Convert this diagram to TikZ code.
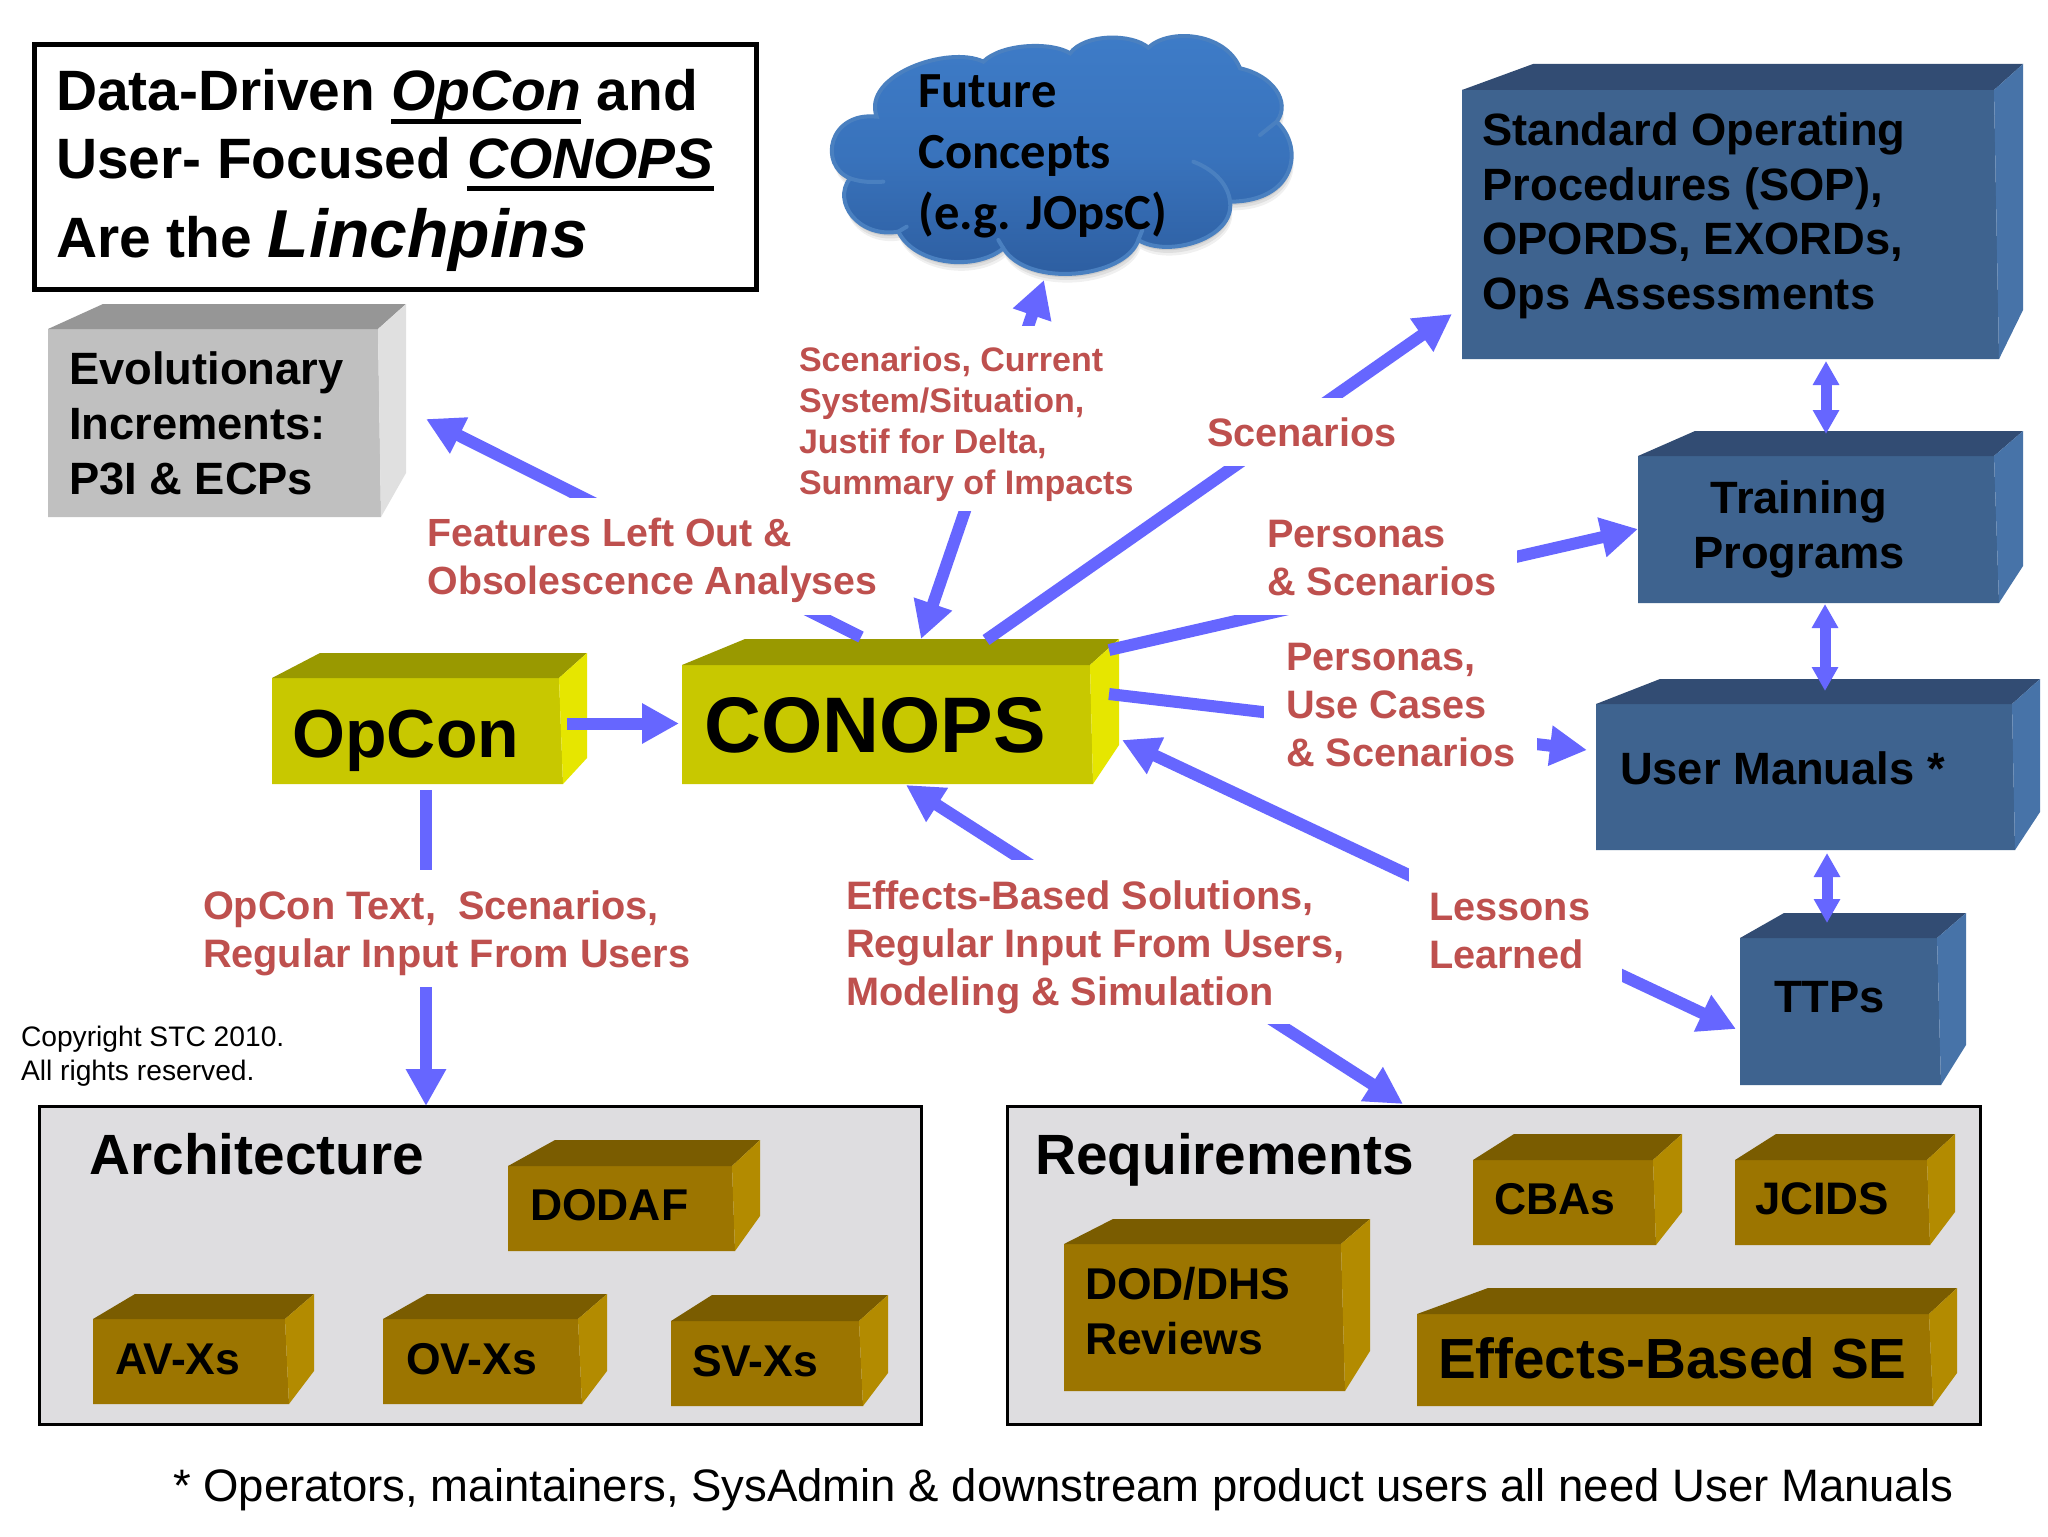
\documentclass[tikz,border=0pt]{standalone}
\usepackage{fontspec}
\setmainfont{Liberation Sans}
\newfontfamily\cloudfont{Carlito}
\usetikzlibrary{arrows.meta,fit}
\definecolor{flowc}{RGB}{102,102,255}
\definecolor{redc}{RGB}{190,80,78}
\definecolor{panelc}{RGB}{222,221,224}
\definecolor{yelF}{RGB}{200,200,0}\definecolor{yelT}{RGB}{153,153,0}\definecolor{yelS}{RGB}{230,230,0}
\definecolor{bluF}{RGB}{62,99,143}\definecolor{bluT}{RGB}{50,76,115}\definecolor{bluS}{RGB}{71,115,168}
\definecolor{golF}{RGB}{156,117,0}\definecolor{golT}{RGB}{122,92,0}\definecolor{golS}{RGB}{179,139,0}
\definecolor{graF}{RGB}{192,192,192}\definecolor{graT}{RGB}{150,150,150}\definecolor{graS}{RGB}{224,224,224}
\definecolor{cloudT}{RGB}{62,124,200}\definecolor{cloudB}{RGB}{44,92,158}\definecolor{cloudE}{RGB}{74,128,192}
\tikzset{
  x=0.5pt,y=-0.5pt,
  txt/.style={inner sep=0pt,outer sep=0pt,anchor=base west,align=left},
  boxtxt/.style={txt,text=black,font=\fontsize{22.65}{27.3}\selectfont\bfseries},
  smallbox/.style={txt,text=black,font=\fontsize{22.25}{27.5}\selectfont\bfseries},
  redtxt/.style={txt,text=redc,font=\fontsize{19.85}{24}\selectfont\bfseries},
  titletxt/.style={txt,font=\fontsize{28.45}{33}\selectfont\bfseries},
  face/.style={inner sep=0pt,outer sep=0pt,draw=none},
  flowto/.style={draw=flowc,line width=6pt,-{Triangle[length=18.5pt,width=19pt]}},
  flowboth/.style={draw=flowc,line width=6pt,{Triangle[length=18.5pt,width=19pt]}-{Triangle[length=18.5pt,width=19pt]}},
  flowsmall/.style={draw=flowc,line width=5.5pt,{Triangle[length=12pt,width=12.5pt]}-{Triangle[length=12pt,width=12.5pt]}},
  panel/.style={draw=black,line width=1.5pt,fill=panelc},
}
% name, colour prefix, L, T, R, B, back-left x, back y, back right x, then {side bottom y}{front bottom right x}
\newcommand\cuboid[9]{\def\cbA{#1}\def\cbB{#2}\def\cbL{#3}\def\cbT{#4}\def\cbR{#5}\def\cbD{#6}\def\cbX{#7}\def\cbY{#8}\def\cbZ{#9}\cuboidrest}
\newcommand\cuboidrest[2]{%
  \fill[\cbB F] (\cbL,\cbT) -- (\cbR,\cbT) -- (#2,\cbD) -- (\cbL,\cbD) -- cycle;
  \fill[\cbB T] (\cbL,\cbT) -- (\cbX,\cbY) -- (\cbZ,\cbY) -- (\cbR,\cbT) -- cycle;
  \fill[\cbB S] (\cbR,\cbT) -- (\cbZ,\cbY) -- (\cbZ,#1) -- (#2,\cbD) -- cycle;
  \node[face,fit={(\cbL,\cbT) (\cbR,\cbD)}] (\cbA) {};
}
\newcommand\myul[1]{\leavevmode\setbox0=\hbox{#1}\rlap{\rule[-6.5pt]{\wd0}{2.5pt}}\box0\relax}
\newcommand\cloudpath{(105,460) .. controls (10,420) and (40,260) .. (185,275)
  .. controls (140,150) and (400,60) .. (505,110)
  .. controls (560,55) and (710,50) .. (765,85)
  .. controls (810,25) and (950,25) .. (1000,68)
  .. controls (1060,10) and (1230,20) .. (1275,130)
  .. controls (1370,150) and (1430,230) .. (1385,290)
  .. controls (1470,370) and (1440,530) .. (1245,530)
  .. controls (1260,640) and (1060,700) .. (970,645)
  .. controls (930,760) and (640,790) .. (565,670)
  .. controls (480,740) and (300,720) .. (250,620)
  .. controls (130,640) and (50,530) .. (105,460) -- cycle}
\begin{document}
\begin{tikzpicture}
\useasboundingbox (0,0) rectangle (2048,1536);
\fill[white] (0,0) rectangle (2048,1536);

% title
\node[face,draw=black,line width=2.5pt,fit={(34,45) (756,289.5)}] (title) {};
\node[titletxt] (titleA) at (56,111) {Data-Driven \myul{\itshape OpCon} and};
\node[titletxt] (titleB) at (56,178) {User- Focused \myul{\itshape CONOPS}};
\node[titletxt] (titleC) at (56,257) {Are the {\fontsize{33.9}{33}\selectfont\itshape Linchpins}};

% cloud
\begin{scope}[shift={(815,25)},x=0.16667pt,y=-0.16667pt]
  \fill[black,opacity=0.06] [shift={(6,26)}] \cloudpath;
  \fill[black,opacity=0.07] [shift={(4,18)}] \cloudpath;
  \fill[black,opacity=0.08] [shift={(2,10)}] \cloudpath;
  \path[top color=cloudT,bottom color=cloudB,middle color=cloudT!70!cloudB,draw=cloudE,line width=2pt] \cloudpath;
  \draw[cloudE,line width=2pt,line cap=round] (105,460) .. controls (140,472) and (170,472) .. (205,470);
  \draw[cloudE,line width=2pt,line cap=round] (250,620) -- (275,605);
  \draw[cloudE,line width=2pt,line cap=round] (565,670) -- (550,645);
  \draw[cloudE,line width=2pt,line cap=round] (970,645) -- (982,615);
  \draw[cloudE,line width=2pt,line cap=round] (1245,530) .. controls (1240,480) and (1200,435) .. (1135,410);
  \draw[cloudE,line width=2pt,line cap=round] (1385,290) -- (1335,330);
\end{scope}
\node[face,fit={(834,39) (1298,278)}] (cloud) {};
\node[txt,font=\fontsize{25.3}{30.5}\selectfont\cloudfont\bfseries] (cloudT) at (918.5,229) {Future\\Concepts\\(e.g. JOpsC)};

% boxes
\cuboid{evo}{gra}{48}{329}{378}{517}{103}{304}{406}{473}{381}
\cuboid{sop}{blu}{1462}{90}{1994}{359}{1533}{64}{2023}{310}{1999}
\cuboid{train}{blu}{1638}{456}{1994}{603}{1695}{431}{2023}{566}{1999}
\cuboid{umanual}{blu}{1596}{704}{2012}{850}{1660}{679}{2040}{812}{2015}
\cuboid{ttps}{blu}{1740}{938}{1937}{1085}{1784}{913}{1966}{1045}{1941}
\cuboid{opcon}{yel}{272}{678}{559}{784}{320}{653}{587}{758}{563}
\cuboid{conops}{yel}{682}{665}{1090}{784}{745}{639}{1119}{745}{1093}

% panels
\node[face,panel,fit={(39,1106) (921,1424)}] (arch) {};
\node[face,panel,fit={(1007,1106) (1980,1424)}] (req) {};
\cuboid{dodaf}{gol}{508}{1166}{732}{1251}{555}{1140}{760}{1216}{735}
\cuboid{avx}{gol}{93}{1319}{285}{1404}{135}{1294}{314}{1371}{289}
\cuboid{ovx}{gol}{383}{1319}{578}{1404}{427}{1294}{607}{1371}{582}
\cuboid{svx}{gol}{671}{1321}{859}{1406}{712}{1295}{888}{1373}{863}
\cuboid{cba}{gol}{1473}{1160}{1653}{1245}{1514}{1134}{1682}{1212}{1656}
\cuboid{jcids}{gol}{1735}{1160}{1927}{1245}{1776}{1134}{1955}{1212}{1930}
\cuboid{dod}{gol}{1064}{1244}{1341}{1391}{1113}{1219}{1370}{1351}{1345}
\cuboid{ebse}{gol}{1417}{1314}{1929}{1406}{1488}{1288}{1957}{1373}{1933}

% connectors
\draw[flowto] ([shift={(8,45.5)}]opcon.north east) -- ([shift={(-3,58.5)}]conops.north west);
\draw[flowto] ([shift={(179,-28)}]conops.north west) -- ([shift={(48,90)}]evo.north east);
\draw[flowboth] ([shift={(239,-26)}]conops.north west) -- ([shift={(210,2)}]cloud.south west);
\draw[flowto] ([shift={(304,-25)}]conops.north west) -- ([shift={(-10,-45)}]sop.south west);
\draw[flowto] ([shift={(19,-15)}]conops.north east) -- ([shift={(0,73)}]train.north west);
\draw[flowto] ([shift={(19,29)}]conops.north east) -- ([shift={(-9,46)}]umanual.north west);
\draw[flowboth] ([shift={(32,75)}]conops.north east) -- ([shift={(-4,91)}]ttps.north west);
\draw[flowboth] ([shift={(224,1)}]conops.south west) -- ([shift={(396,-2)}]req.north west);
\draw[flowto] ([shift={(154,6)}]opcon.south west) -- ([shift={(387,0)}]arch.north west);
\draw[flowsmall] ([shift={(364,2)}]sop.south west) -- ([shift={(188,-22)}]train.north west);
\draw[flowsmall] ([shift={(187,1)}]train.south west) -- ([shift={(229,-13)}]umanual.north west);
\draw[flowsmall] ([shift={(231,3)}]umanual.south west) -- ([shift={(87,-15)}]ttps.north west);

% label masks over the connectors
\fill[white] (415,498) rectangle (890,615);
\fill[white] (795,326) rectangle (1150,511);
\fill[white] (1190,398) rectangle (1420,466);
\fill[white] (1230,513) rectangle (1517,615);
\fill[white] (1264,625) rectangle (1537,790);
\fill[white] (1409,855) rectangle (1622,1000);
\fill[white] (835,860) rectangle (1350,1024);
\fill[white] (190,870) rectangle (700,987);

% connector labels
\node[redtxt,font=\fontsize{19.65}{24}\selectfont\bfseries] (lblFeat) at (427.5,594.6) {Features Left Out \&\\Obsolescence Analyses};
\node[redtxt,font=\fontsize{17}{20.5}\selectfont\bfseries] (lblCur) at (799,494) {Scenarios, Current\\System/Situation,\\Justif for Delta,\\Summary of Impacts};
\node[redtxt] (lblScen) at (1207,446) {Scenarios};
\node[redtxt] (lblPers) at (1267,595) {Personas\\\& Scenarios};
\node[redtxt] (lblUse) at (1286,766) {Personas,\\Use Cases\\\& Scenarios};
\node[redtxt] (lblLess) at (1429,968) {Lessons\\Learned};
\node[redtxt] (lblEff) at (846,1005) {Effects-Based Solutions,\\Regular Input From Users,\\Modeling \& Simulation};
\node[redtxt] (lblOp) at (203,967) {OpCon Text,\ \ Scenarios,\\Regular Input From Users};

% box texts
\node[boxtxt] (evoT) at (69,494) {Evolutionary\\Increments:\\P3I \& ECPs};
\node[boxtxt] (sopT) at (1482.5,309.5) {Standard Operating\\Procedures (SOP),\\OPORDS, EXORDs,\\Ops Assessments};
\node[boxtxt,align=center,anchor=base] (trainT) at (1799,568.5) {Training\\Programs};
\node[boxtxt] (umT) at (1620,784) {User Manuals *};
\node[boxtxt] (ttpT) at (1774,1012) {TTPs};
\node[txt,font=\fontsize{34}{40}\selectfont\bfseries] (opT) at (292.5,757) {OpCon};
\node[txt,font=\fontsize{39.4}{46}\selectfont\bfseries] (conT) at (704.5,752) {CONOPS};
\node[txt,font=\fontsize{28.4}{33}\selectfont\bfseries] (archT) at (89.5,1174) {Architecture};
\node[txt,font=\fontsize{28.4}{33}\selectfont\bfseries] (reqT) at (1035,1174) {Requirements};
\node[smallbox] (dodafT) at (530,1220) {DODAF};
\node[smallbox] (avT) at (115,1374) {AV-Xs};
\node[smallbox] (ovT) at (406,1374) {OV-Xs};
\node[smallbox] (svT) at (692,1376) {SV-Xs};
\node[smallbox] (cbaT) at (1494,1214) {CBAs};
\node[smallbox,font=\fontsize{22.8}{27.5}\selectfont\bfseries] (jcT) at (1755,1214) {JCIDS};
\node[smallbox] (dodT) at (1085,1354) {DOD/DHS\\Reviews};
\node[txt,font=\fontsize{28.3}{33}\selectfont\bfseries] (ebT) at (1438,1378) {Effects-Based SE};

% free texts
\node[txt,font=\fontsize{14.1}{17}\selectfont] (copy) at (21,1080) {Copyright STC 2010.\\All rights reserved.};
\node[txt,font=\fontsize{22.75}{26}\selectfont] (foot) at (173,1501) {* Operators, maintainers, SysAdmin \& downstream product users all need User Manuals};
\end{tikzpicture}
\end{document}
